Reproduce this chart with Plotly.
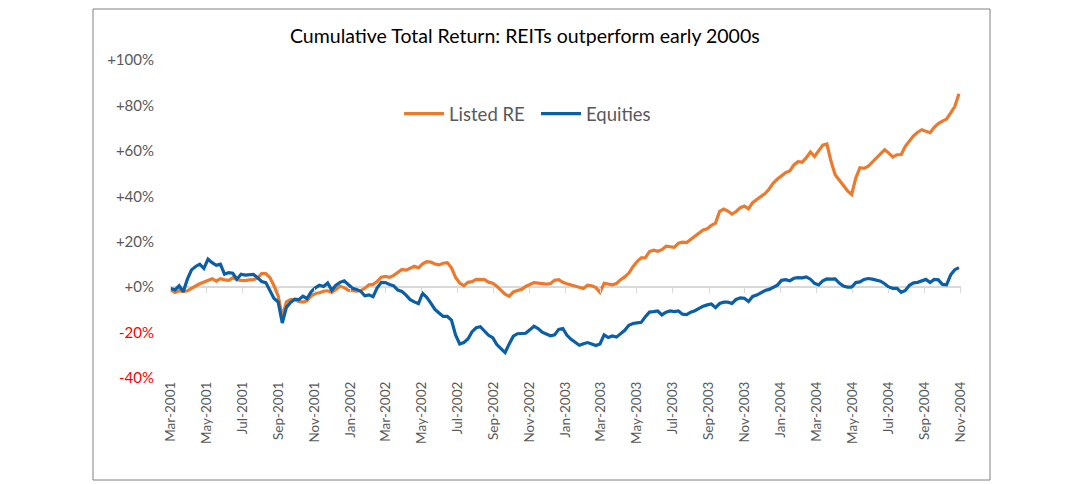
import pandas as pd
import plotly.graph_objects as go

# Weekly observations, Mar-2001 .. Nov-2004
start_date = "2001-03-02"
n_weeks = 192

listed_re = [
    -1.2, -2.3, -1.6, -2.0, -1.6, -0.4, 0.5, 1.5, 2.2, 2.9,
    3.7, 2.6, 3.7, 3.2, 3.0, 4.1, 3.3, 3.0, 2.9, 3.2,
    3.3, 4.0, 6.0, 6.0, 4.2, 0.6, -3.8, -13.0, -6.5, -5.5,
    -5.6, -6.3, -6.6, -6.0, -3.8, -2.8, -2.5, -1.8, -1.6, -2.3,
    -1.1, 0.4, -0.2, -1.4, -1.6, -1.8, -1.5, -0.5, 1.0,
    1.2, 2.5, 4.4, 4.7, 4.3, 5.2, 6.4, 7.8, 7.5, 8.2,
    9.2, 8.5, 10.3, 11.2, 11.0, 10.2, 9.8, 10.5, 10.8, 8.5,
    4.3, 1.8, 0.6, 2.1, 2.4, 3.4, 3.3, 3.3, 2.2, 1.7,
    0.4, -1.2, -3.1, -4.0, -2.1, -1.5, -1.0, 0.3, 1.0, 2.0,
    1.8, 1.4, 1.3, 1.6, 3.0, 3.3, 2.1, 1.5,
    1.0, 0.4, -0.1, -0.6, 0.9, 0.6, -0.2, -2.3, 1.7, 1.2,
    1.0, 1.6, 3.3, 4.5, 6.2, 9.0, 11.3, 12.9, 13.0, 15.7,
    16.3, 15.8, 16.5, 18.0, 17.6, 17.5, 19.3, 19.8, 19.6, 21.0,
    22.3, 23.4, 25.2, 25.7, 27.2, 28.2, 33.4, 34.4, 33.5, 32.2,
    33.3, 35.0, 35.7, 34.5, 37.2, 38.6, 40.0,
    41.2, 43.2, 45.8, 47.6, 49.0, 50.4, 51.2, 53.8, 55.2, 55.0,
    57.0, 59.5, 57.5, 59.8, 62.5, 63.0, 55.4, 49.5, 47.2, 44.4,
    42.4, 40.8, 48.0, 52.6, 52.3, 53.2, 55.0, 56.8, 59.0, 60.5,
    59.0, 57.3, 58.3, 58.4, 62.0, 64.5, 66.6, 68.2, 69.3, 68.6,
    68.0, 70.3, 72.0, 73.1, 74.0, 76.7, 79.5, 85.1,
]

equities = [
    -0.6, -1.2, 0.6, -2.0, 3.5, 7.6, 9.1, 10.1, 8.2, 12.3,
    10.8, 9.6, 10.1, 5.7, 6.4, 6.1, 3.5, 5.7, 5.3, 5.3,
    5.6, 4.2, 2.5, 2.0, -1.5, -5.0, -6.5, -15.8, -8.9, -6.7,
    -5.3, -5.5, -4.0, -5.0, -2.0, -0.3, 0.8, 0.3, 1.8, -1.4,
    0.9, 2.1, 2.8, 0.9, -0.5, -1.0, -1.8, -3.8, -3.4,
    -4.2, -0.3, 2.1, 2.0, 1.2, 0.6, -1.3, -1.9, -3.5, -5.5,
    -6.5, -7.3, -2.7, -4.5, -7.0, -9.8, -11.4, -12.9, -12.9, -14.5,
    -21.0, -25.0, -24.4, -22.8, -19.6, -17.9, -17.4, -19.5, -21.2, -22.2,
    -25.3, -27.1, -28.8, -25.0, -21.6, -20.5, -20.3, -20.3, -18.8, -17.2,
    -18.2, -19.8, -20.6, -21.4, -21.0, -18.6, -18.2, -21.2,
    -23.0, -24.1, -25.6, -24.9, -24.4, -25.0, -25.7, -25.0, -21.0, -22.2,
    -21.5, -22.0, -20.4, -19.0, -16.8, -16.0, -15.7, -15.5, -13.0, -11.0,
    -10.8, -10.5, -12.2, -11.0, -10.5, -10.8, -10.5, -11.9, -12.1, -11.0,
    -10.4, -9.3, -8.4, -7.8, -7.4, -9.0, -7.2, -6.6, -6.6, -7.2,
    -5.4, -4.7, -4.9, -6.3, -4.1, -3.5, -2.4,
    -1.5, -1.0, -0.1, 0.9, 3.0, 3.3, 2.8, 3.9, 4.2, 4.1,
    4.5, 3.5, 1.7, 1.0, 2.8, 3.6, 3.5, 3.6, 1.8, 0.5,
    0.0, 0.0, 2.0, 2.3, 3.4, 3.8, 3.5, 3.0, 2.6, 1.5,
    0.0, -0.5, -0.5, -2.3, -1.5, 0.8, 1.9, 2.1, 2.9, 3.4,
    2.0, 3.4, 3.2, 1.2, 1.0, 5.4, 7.7, 8.6,
]

y_tick_vals = [-40, -20, 0, 20, 40, 60, 80, 100]
y_tick_text = [
    "<span style='color:#FF0000'>-40%</span>",
    "<span style='color:#FF0000'>-20%</span>",
    "+0%", "+20%", "+40%", "+60%", "+80%", "+100%",
]

dates = pd.date_range(start_date, periods=n_weeks, freq="7D")

FONT = "Lato"
ORANGE = "#EC7A2C"
BLUE = "#0A5FA6"
GRAY = "#595959"

fig = go.Figure()
fig.add_trace(go.Scatter(x=dates, y=listed_re, mode="lines", name="Listed RE",
                         line=dict(color=ORANGE, width=3.2), legend="legend"))
fig.add_trace(go.Scatter(x=dates, y=equities, mode="lines", name="Equities",
                         line=dict(color=BLUE, width=3.2), legend="legend2"))
# helper trace so the zero-crossing tick axis is drawn
fig.add_trace(go.Scatter(x=[dates[0]], y=[0], mode="lines", xaxis="x2",
                         showlegend=False, hoverinfo="skip",
                         line=dict(width=0)))

x_range = ["2001-02-28 12:00", "2004-11-01 12:00"]
legend_style = dict(orientation="h", xanchor="left", yanchor="middle", y=0.83,
                    font=dict(size=18.5, color=GRAY, family=FONT),
                    bgcolor="rgba(0,0,0,0)", itemwidth=40)

fig.update_layout(
    width=1084, height=484,
    margin=dict(l=162, r=131, t=52, b=114),
    paper_bgcolor="white", plot_bgcolor="white",
    font=dict(family=FONT, color=GRAY),
    showlegend=True,
    legend=dict(x=0.2896, **legend_style),
    legend2=dict(x=0.4627, **legend_style),
    xaxis=dict(type="date", range=x_range, tickformat="%b-%Y", dtick="M2",
               tick0="2001-03-01", tickangle=-90, showgrid=False, showline=False,
               zeroline=False, ticks="", tickfont=dict(size=13.5, color=GRAY, family=FONT)),
    xaxis2=dict(type="date", range=x_range, overlaying="x", anchor="free",
                position=40 / 140, dtick="M2", tick0="2001-03-01", showticklabels=False,
                ticks="outside", ticklen=5, tickwidth=1, tickcolor="#D9D9D9",
                showgrid=False, showline=False, zeroline=False),
    yaxis=dict(range=[-40, 100], tickvals=y_tick_vals, ticktext=y_tick_text,
               showgrid=False, showline=False, zeroline=True, zerolinecolor="#D9D9D9",
               zerolinewidth=2, ticks="", ticklabelstandoff=15,
               tickfont=dict(size=15, color=GRAY, family=FONT)),
    annotations=[dict(text="Cumulative Total Return: REITs outperform early 2000s",
                      xref="paper", yref="paper", x=0.4488, y=1.0755,
                      xanchor="center", yanchor="middle", showarrow=False,
                      font=dict(size=19.5, color="#000000", family=FONT))],
    shapes=[dict(type="rect", xref="paper", yref="paper",
                 x0=(93 - 170) / 791, x1=(990 - 170) / 791,
                 y0=(378 - 480) / 318, y1=(52 - 1) / 318 + 1,
                 line=dict(color="#808080", width=1), fillcolor="rgba(0,0,0,0)",
                 layer="below")],
)

fig.write_html("out.html")
